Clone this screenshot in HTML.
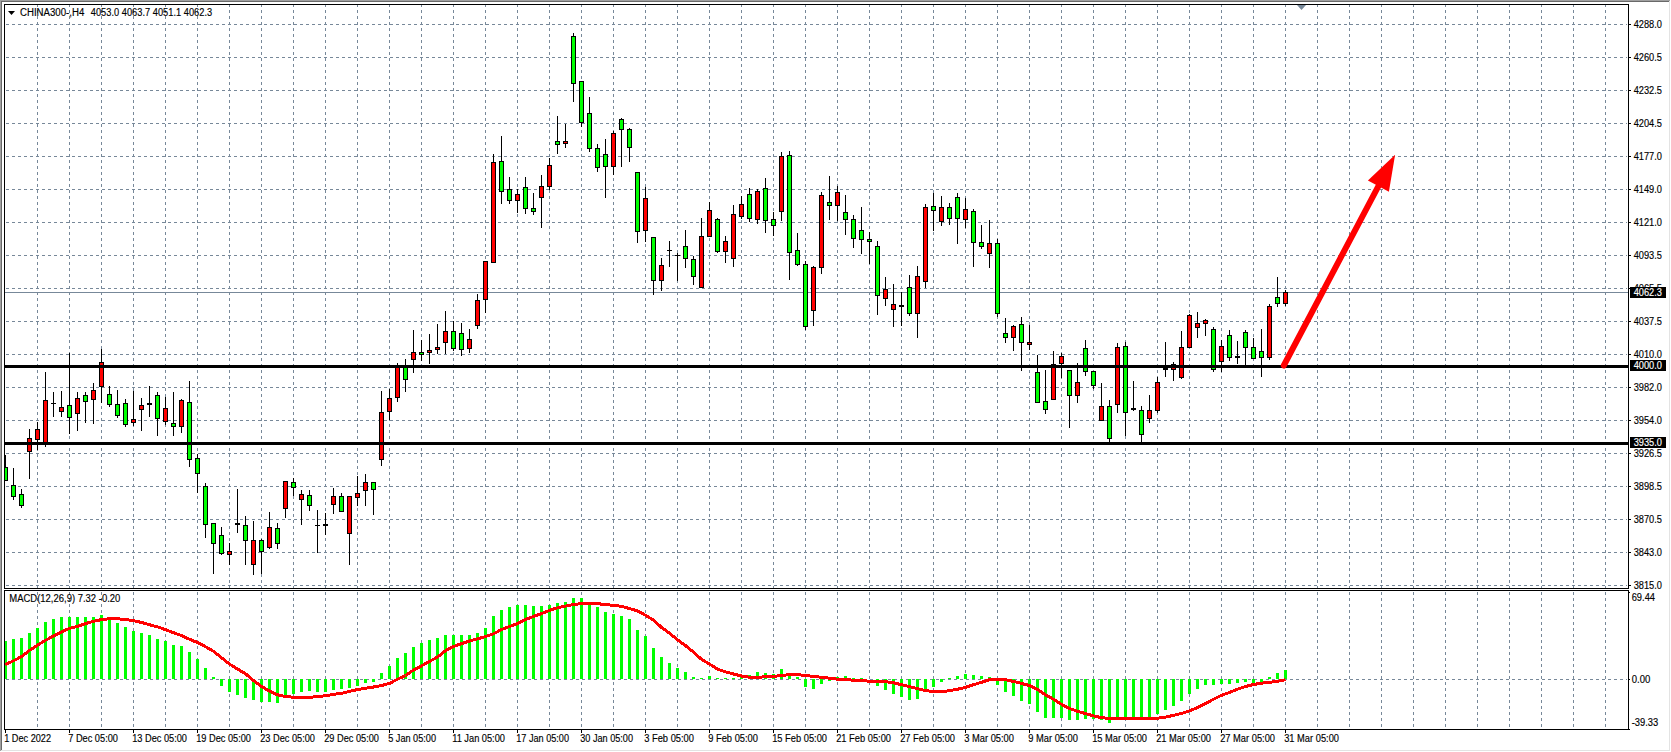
<!DOCTYPE html>
<html lang="en"><head><meta charset="utf-8"><title>CHINA300 H4 chart</title>
<style>
html,body{margin:0;padding:0;background:#fff;overflow:hidden}
svg{display:block}
text{font-family:"Liberation Sans",sans-serif;font-size:10px;fill:#000;stroke:#000;stroke-width:0.15px}
.w{fill:#fff;stroke:#fff}
</style></head><body>
<svg width="1671" height="752" viewBox="0 0 1671 752">
<rect width="1671" height="752" fill="#fff"/>
<g shape-rendering="crispEdges">
<rect x="0" y="0" width="1670" height="1" fill="#a0a0a0"/><rect x="0" y="0" width="1" height="751" fill="#a0a0a0"/>
<rect x="1" y="1" width="1668" height="1" fill="#696969"/><rect x="1" y="1" width="1" height="749" fill="#696969"/>
<rect x="1" y="750" width="1669" height="1" fill="#e3e3e3"/><rect x="1669" y="1" width="1" height="750" fill="#e3e3e3"/>
<g stroke="#778899" stroke-width="1" stroke-dasharray="3 3" fill="none">
<path d="M37.5 4V729"/>
<path d="M69.5 4V729"/>
<path d="M101.5 4V729"/>
<path d="M133.5 4V729"/>
<path d="M165.5 4V729"/>
<path d="M197.5 4V729"/>
<path d="M229.5 4V729"/>
<path d="M261.5 4V729"/>
<path d="M293.5 4V729"/>
<path d="M325.5 4V729"/>
<path d="M357.5 4V729"/>
<path d="M389.5 4V729"/>
<path d="M421.5 4V729"/>
<path d="M453.5 4V729"/>
<path d="M485.5 4V729"/>
<path d="M517.5 4V729"/>
<path d="M549.5 4V729"/>
<path d="M581.5 4V729"/>
<path d="M613.5 4V729"/>
<path d="M645.5 4V729"/>
<path d="M677.5 4V729"/>
<path d="M709.5 4V729"/>
<path d="M741.5 4V729"/>
<path d="M773.5 4V729"/>
<path d="M805.5 4V729"/>
<path d="M837.5 4V729"/>
<path d="M869.5 4V729"/>
<path d="M901.5 4V729"/>
<path d="M933.5 4V729"/>
<path d="M965.5 4V729"/>
<path d="M997.5 4V729"/>
<path d="M1029.5 4V729"/>
<path d="M1061.5 4V729"/>
<path d="M1093.5 4V729"/>
<path d="M1125.5 4V729"/>
<path d="M1157.5 4V729"/>
<path d="M1189.5 4V729"/>
<path d="M1221.5 4V729"/>
<path d="M1253.5 4V729"/>
<path d="M1285.5 4V729"/>
<path d="M1317.5 4V729"/>
<path d="M1349.5 4V729"/>
<path d="M1381.5 4V729"/>
<path d="M1413.5 4V729"/>
<path d="M1445.5 4V729"/>
<path d="M1477.5 4V729"/>
<path d="M1509.5 4V729"/>
<path d="M1541.5 4V729"/>
<path d="M1573.5 4V729"/>
<path d="M1605.5 4V729"/>
<path d="M6 24.5H1627"/>
<path d="M6 57.5H1627"/>
<path d="M6 90.5H1627"/>
<path d="M6 123.5H1627"/>
<path d="M6 156.5H1627"/>
<path d="M6 189.5H1627"/>
<path d="M6 222.5H1627"/>
<path d="M6 255.5H1627"/>
<path d="M6 288.5H1627"/>
<path d="M6 321.5H1627"/>
<path d="M6 354.5H1627"/>
<path d="M6 387.5H1627"/>
<path d="M6 420.5H1627"/>
<path d="M6 453.5H1627"/>
<path d="M6 486.5H1627"/>
<path d="M6 519.5H1627"/>
<path d="M6 552.5H1627"/>
<path d="M6 585.5H1627"/>
<path d="M6 679.5H1627"/>
</g>
<rect x="4" y="589" width="1625" height="1" fill="#fff"/>
<rect x="5" y="292" width="1623" height="1" fill="#778899"/>
<path d="M1297 5h9l-4.5 5z" fill="#778899" shape-rendering="auto"/>
<clipPath id="cm"><rect x="5" y="5" width="1623" height="583"/></clipPath><g clip-path="url(#cm)">
<rect x="5" y="455" width="1" height="26" fill="#000"/>
<rect x="3" y="467" width="5" height="14" fill="#000"/>
<rect x="4" y="468" width="3" height="12" fill="#00ff00"/>
<rect x="13" y="468" width="1" height="32" fill="#000"/>
<rect x="11" y="485" width="5" height="12" fill="#000"/>
<rect x="12" y="486" width="3" height="10" fill="#00ff00"/>
<rect x="21" y="489" width="1" height="19" fill="#000"/>
<rect x="19" y="494" width="5" height="12" fill="#000"/>
<rect x="20" y="495" width="3" height="10" fill="#00ff00"/>
<rect x="29" y="429" width="1" height="50" fill="#000"/>
<rect x="27" y="438" width="5" height="14" fill="#000"/>
<rect x="28" y="439" width="3" height="12" fill="#ff0000"/>
<rect x="37" y="422" width="1" height="28" fill="#000"/>
<rect x="35" y="429" width="5" height="11" fill="#000"/>
<rect x="36" y="430" width="3" height="9" fill="#ff0000"/>
<rect x="45" y="372" width="1" height="75" fill="#000"/>
<rect x="43" y="400" width="5" height="43" fill="#000"/>
<rect x="44" y="401" width="3" height="41" fill="#ff0000"/>
<rect x="53" y="392" width="1" height="25" fill="#000"/>
<rect x="51" y="403" width="5" height="1" fill="#000"/>
<rect x="61" y="391" width="1" height="26" fill="#000"/>
<rect x="59" y="407" width="5" height="5" fill="#000"/>
<rect x="60" y="408" width="3" height="3" fill="#ff0000"/>
<rect x="69" y="353" width="1" height="81" fill="#000"/>
<rect x="67" y="405" width="5" height="13" fill="#000"/>
<rect x="68" y="406" width="3" height="11" fill="#00ff00"/>
<rect x="77" y="392" width="1" height="39" fill="#000"/>
<rect x="75" y="398" width="5" height="16" fill="#000"/>
<rect x="76" y="399" width="3" height="14" fill="#ff0000"/>
<rect x="85" y="392" width="1" height="31" fill="#000"/>
<rect x="83" y="395" width="5" height="7" fill="#000"/>
<rect x="84" y="396" width="3" height="5" fill="#00ff00"/>
<rect x="93" y="383" width="1" height="41" fill="#000"/>
<rect x="91" y="390" width="5" height="10" fill="#000"/>
<rect x="92" y="391" width="3" height="8" fill="#ff0000"/>
<rect x="101" y="349" width="1" height="54" fill="#000"/>
<rect x="99" y="362" width="5" height="25" fill="#000"/>
<rect x="100" y="363" width="3" height="23" fill="#ff0000"/>
<rect x="109" y="386" width="1" height="21" fill="#000"/>
<rect x="107" y="394" width="5" height="11" fill="#000"/>
<rect x="108" y="395" width="3" height="9" fill="#00ff00"/>
<rect x="117" y="390" width="1" height="28" fill="#000"/>
<rect x="115" y="404" width="5" height="12" fill="#000"/>
<rect x="116" y="405" width="3" height="10" fill="#00ff00"/>
<rect x="125" y="399" width="1" height="28" fill="#000"/>
<rect x="123" y="403" width="5" height="22" fill="#000"/>
<rect x="124" y="404" width="3" height="20" fill="#00ff00"/>
<rect x="133" y="391" width="1" height="35" fill="#000"/>
<rect x="131" y="419" width="5" height="4" fill="#000"/>
<rect x="132" y="420" width="3" height="2" fill="#ff0000"/>
<rect x="141" y="398" width="1" height="33" fill="#000"/>
<rect x="139" y="405" width="5" height="5" fill="#000"/>
<rect x="140" y="406" width="3" height="3" fill="#ff0000"/>
<rect x="149" y="386" width="1" height="31" fill="#000"/>
<rect x="147" y="403" width="5" height="2" fill="#000"/>
<rect x="157" y="392" width="1" height="44" fill="#000"/>
<rect x="155" y="395" width="5" height="24" fill="#000"/>
<rect x="156" y="396" width="3" height="22" fill="#00ff00"/>
<rect x="165" y="397" width="1" height="28" fill="#000"/>
<rect x="163" y="408" width="5" height="14" fill="#000"/>
<rect x="164" y="409" width="3" height="12" fill="#ff0000"/>
<rect x="173" y="392" width="1" height="44" fill="#000"/>
<rect x="171" y="423" width="5" height="4" fill="#000"/>
<rect x="172" y="424" width="3" height="2" fill="#00ff00"/>
<rect x="181" y="399" width="1" height="34" fill="#000"/>
<rect x="179" y="400" width="5" height="27" fill="#000"/>
<rect x="180" y="401" width="3" height="25" fill="#ff0000"/>
<rect x="189" y="381" width="1" height="86" fill="#000"/>
<rect x="187" y="402" width="5" height="58" fill="#000"/>
<rect x="188" y="403" width="3" height="56" fill="#00ff00"/>
<rect x="197" y="454" width="1" height="39" fill="#000"/>
<rect x="195" y="458" width="5" height="16" fill="#000"/>
<rect x="196" y="459" width="3" height="14" fill="#00ff00"/>
<rect x="205" y="483" width="1" height="55" fill="#000"/>
<rect x="203" y="486" width="5" height="39" fill="#000"/>
<rect x="204" y="487" width="3" height="37" fill="#00ff00"/>
<rect x="213" y="523" width="1" height="51" fill="#000"/>
<rect x="211" y="523" width="5" height="21" fill="#000"/>
<rect x="212" y="524" width="3" height="19" fill="#00ff00"/>
<rect x="221" y="527" width="1" height="28" fill="#000"/>
<rect x="219" y="535" width="5" height="19" fill="#000"/>
<rect x="220" y="536" width="3" height="17" fill="#00ff00"/>
<rect x="229" y="543" width="1" height="22" fill="#000"/>
<rect x="227" y="551" width="5" height="4" fill="#000"/>
<rect x="228" y="552" width="3" height="2" fill="#ff0000"/>
<rect x="237" y="489" width="1" height="44" fill="#000"/>
<rect x="235" y="523" width="5" height="2" fill="#000"/>
<rect x="245" y="516" width="1" height="49" fill="#000"/>
<rect x="243" y="525" width="5" height="16" fill="#000"/>
<rect x="244" y="526" width="3" height="14" fill="#00ff00"/>
<rect x="253" y="521" width="1" height="54" fill="#000"/>
<rect x="251" y="540" width="5" height="25" fill="#000"/>
<rect x="252" y="541" width="3" height="23" fill="#ff0000"/>
<rect x="261" y="539" width="1" height="35" fill="#000"/>
<rect x="259" y="540" width="5" height="12" fill="#000"/>
<rect x="260" y="541" width="3" height="10" fill="#00ff00"/>
<rect x="269" y="512" width="1" height="37" fill="#000"/>
<rect x="267" y="527" width="5" height="21" fill="#000"/>
<rect x="268" y="528" width="3" height="19" fill="#ff0000"/>
<rect x="277" y="523" width="1" height="26" fill="#000"/>
<rect x="275" y="528" width="5" height="16" fill="#000"/>
<rect x="276" y="529" width="3" height="14" fill="#00ff00"/>
<rect x="285" y="481" width="1" height="37" fill="#000"/>
<rect x="283" y="481" width="5" height="28" fill="#000"/>
<rect x="284" y="482" width="3" height="26" fill="#ff0000"/>
<rect x="293" y="478" width="1" height="18" fill="#000"/>
<rect x="291" y="482" width="5" height="6" fill="#000"/>
<rect x="292" y="483" width="3" height="4" fill="#00ff00"/>
<rect x="301" y="490" width="1" height="35" fill="#000"/>
<rect x="299" y="494" width="5" height="6" fill="#000"/>
<rect x="300" y="495" width="3" height="4" fill="#ff0000"/>
<rect x="309" y="490" width="1" height="21" fill="#000"/>
<rect x="307" y="495" width="5" height="11" fill="#000"/>
<rect x="308" y="496" width="3" height="9" fill="#00ff00"/>
<rect x="317" y="510" width="1" height="43" fill="#000"/>
<rect x="315" y="525" width="5" height="1" fill="#000"/>
<rect x="325" y="513" width="1" height="22" fill="#000"/>
<rect x="323" y="524" width="5" height="2" fill="#000"/>
<rect x="333" y="488" width="1" height="26" fill="#000"/>
<rect x="331" y="496" width="5" height="9" fill="#000"/>
<rect x="332" y="497" width="3" height="7" fill="#ff0000"/>
<rect x="341" y="493" width="1" height="19" fill="#000"/>
<rect x="339" y="496" width="5" height="16" fill="#000"/>
<rect x="340" y="497" width="3" height="14" fill="#00ff00"/>
<rect x="349" y="496" width="1" height="69" fill="#000"/>
<rect x="347" y="496" width="5" height="38" fill="#000"/>
<rect x="348" y="497" width="3" height="36" fill="#ff0000"/>
<rect x="357" y="476" width="1" height="30" fill="#000"/>
<rect x="355" y="493" width="5" height="5" fill="#000"/>
<rect x="356" y="494" width="3" height="3" fill="#ff0000"/>
<rect x="365" y="474" width="1" height="32" fill="#000"/>
<rect x="363" y="482" width="5" height="9" fill="#000"/>
<rect x="364" y="483" width="3" height="7" fill="#ff0000"/>
<rect x="373" y="482" width="1" height="33" fill="#000"/>
<rect x="371" y="482" width="5" height="8" fill="#000"/>
<rect x="372" y="483" width="3" height="6" fill="#00ff00"/>
<rect x="381" y="391" width="1" height="75" fill="#000"/>
<rect x="379" y="412" width="5" height="48" fill="#000"/>
<rect x="380" y="413" width="3" height="46" fill="#ff0000"/>
<rect x="389" y="389" width="1" height="31" fill="#000"/>
<rect x="387" y="398" width="5" height="14" fill="#000"/>
<rect x="388" y="399" width="3" height="12" fill="#ff0000"/>
<rect x="397" y="363" width="1" height="39" fill="#000"/>
<rect x="395" y="366" width="5" height="32" fill="#000"/>
<rect x="396" y="367" width="3" height="30" fill="#ff0000"/>
<rect x="405" y="359" width="1" height="33" fill="#000"/>
<rect x="403" y="366" width="5" height="14" fill="#000"/>
<rect x="404" y="367" width="3" height="12" fill="#00ff00"/>
<rect x="413" y="330" width="1" height="43" fill="#000"/>
<rect x="411" y="352" width="5" height="8" fill="#000"/>
<rect x="412" y="353" width="3" height="6" fill="#ff0000"/>
<rect x="421" y="340" width="1" height="21" fill="#000"/>
<rect x="419" y="352" width="5" height="3" fill="#000"/>
<rect x="420" y="353" width="3" height="1" fill="#00ff00"/>
<rect x="429" y="334" width="1" height="30" fill="#000"/>
<rect x="427" y="350" width="5" height="3" fill="#000"/>
<rect x="428" y="351" width="3" height="1" fill="#ff0000"/>
<rect x="437" y="324" width="1" height="30" fill="#000"/>
<rect x="435" y="347" width="5" height="3" fill="#000"/>
<rect x="436" y="348" width="3" height="1" fill="#ff0000"/>
<rect x="445" y="311" width="1" height="43" fill="#000"/>
<rect x="443" y="331" width="5" height="12" fill="#000"/>
<rect x="444" y="332" width="3" height="10" fill="#ff0000"/>
<rect x="453" y="321" width="1" height="30" fill="#000"/>
<rect x="451" y="331" width="5" height="18" fill="#000"/>
<rect x="452" y="332" width="3" height="16" fill="#00ff00"/>
<rect x="461" y="323" width="1" height="33" fill="#000"/>
<rect x="459" y="333" width="5" height="17" fill="#000"/>
<rect x="460" y="334" width="3" height="15" fill="#00ff00"/>
<rect x="469" y="329" width="1" height="24" fill="#000"/>
<rect x="467" y="339" width="5" height="10" fill="#000"/>
<rect x="468" y="340" width="3" height="8" fill="#ff0000"/>
<rect x="477" y="294" width="1" height="35" fill="#000"/>
<rect x="475" y="300" width="5" height="26" fill="#000"/>
<rect x="476" y="301" width="3" height="24" fill="#ff0000"/>
<rect x="485" y="261" width="1" height="52" fill="#000"/>
<rect x="483" y="261" width="5" height="39" fill="#000"/>
<rect x="484" y="262" width="3" height="37" fill="#ff0000"/>
<rect x="493" y="154" width="1" height="109" fill="#000"/>
<rect x="491" y="162" width="5" height="101" fill="#000"/>
<rect x="492" y="163" width="3" height="99" fill="#ff0000"/>
<rect x="501" y="136" width="1" height="68" fill="#000"/>
<rect x="499" y="161" width="5" height="31" fill="#000"/>
<rect x="500" y="162" width="3" height="29" fill="#00ff00"/>
<rect x="509" y="177" width="1" height="27" fill="#000"/>
<rect x="507" y="189" width="5" height="12" fill="#000"/>
<rect x="508" y="190" width="3" height="10" fill="#00ff00"/>
<rect x="517" y="189" width="1" height="24" fill="#000"/>
<rect x="515" y="194" width="5" height="7" fill="#000"/>
<rect x="516" y="195" width="3" height="5" fill="#ff0000"/>
<rect x="525" y="177" width="1" height="37" fill="#000"/>
<rect x="523" y="187" width="5" height="22" fill="#000"/>
<rect x="524" y="188" width="3" height="20" fill="#00ff00"/>
<rect x="533" y="193" width="1" height="22" fill="#000"/>
<rect x="531" y="208" width="5" height="4" fill="#000"/>
<rect x="532" y="209" width="3" height="2" fill="#00ff00"/>
<rect x="541" y="175" width="1" height="53" fill="#000"/>
<rect x="539" y="186" width="5" height="12" fill="#000"/>
<rect x="540" y="187" width="3" height="10" fill="#ff0000"/>
<rect x="549" y="158" width="1" height="32" fill="#000"/>
<rect x="547" y="165" width="5" height="22" fill="#000"/>
<rect x="548" y="166" width="3" height="20" fill="#ff0000"/>
<rect x="557" y="116" width="1" height="38" fill="#000"/>
<rect x="555" y="141" width="5" height="4" fill="#000"/>
<rect x="556" y="142" width="3" height="2" fill="#00ff00"/>
<rect x="565" y="124" width="1" height="24" fill="#000"/>
<rect x="563" y="141" width="5" height="3" fill="#000"/>
<rect x="564" y="142" width="3" height="1" fill="#ff0000"/>
<rect x="573" y="33" width="1" height="69" fill="#000"/>
<rect x="571" y="36" width="5" height="48" fill="#000"/>
<rect x="572" y="37" width="3" height="46" fill="#00ff00"/>
<rect x="581" y="81" width="1" height="46" fill="#000"/>
<rect x="579" y="81" width="5" height="42" fill="#000"/>
<rect x="580" y="82" width="3" height="40" fill="#00ff00"/>
<rect x="589" y="97" width="1" height="55" fill="#000"/>
<rect x="587" y="113" width="5" height="36" fill="#000"/>
<rect x="588" y="114" width="3" height="34" fill="#00ff00"/>
<rect x="597" y="144" width="1" height="28" fill="#000"/>
<rect x="595" y="148" width="5" height="20" fill="#000"/>
<rect x="596" y="149" width="3" height="18" fill="#00ff00"/>
<rect x="605" y="139" width="1" height="59" fill="#000"/>
<rect x="603" y="154" width="5" height="13" fill="#000"/>
<rect x="604" y="155" width="3" height="11" fill="#00ff00"/>
<rect x="613" y="131" width="1" height="44" fill="#000"/>
<rect x="611" y="133" width="5" height="34" fill="#000"/>
<rect x="612" y="134" width="3" height="32" fill="#ff0000"/>
<rect x="621" y="118" width="1" height="49" fill="#000"/>
<rect x="619" y="119" width="5" height="11" fill="#000"/>
<rect x="620" y="120" width="3" height="9" fill="#00ff00"/>
<rect x="629" y="128" width="1" height="34" fill="#000"/>
<rect x="627" y="129" width="5" height="19" fill="#000"/>
<rect x="628" y="130" width="3" height="17" fill="#00ff00"/>
<rect x="637" y="172" width="1" height="71" fill="#000"/>
<rect x="635" y="172" width="5" height="60" fill="#000"/>
<rect x="636" y="173" width="3" height="58" fill="#00ff00"/>
<rect x="645" y="187" width="1" height="55" fill="#000"/>
<rect x="643" y="198" width="5" height="33" fill="#000"/>
<rect x="644" y="199" width="3" height="31" fill="#ff0000"/>
<rect x="653" y="237" width="1" height="58" fill="#000"/>
<rect x="651" y="237" width="5" height="44" fill="#000"/>
<rect x="652" y="238" width="3" height="42" fill="#00ff00"/>
<rect x="661" y="258" width="1" height="33" fill="#000"/>
<rect x="659" y="265" width="5" height="16" fill="#000"/>
<rect x="660" y="266" width="3" height="14" fill="#ff0000"/>
<rect x="669" y="241" width="1" height="26" fill="#000"/>
<rect x="667" y="250" width="5" height="1" fill="#000"/>
<rect x="677" y="253" width="1" height="28" fill="#000"/>
<rect x="675" y="255" width="5" height="1" fill="#000"/>
<rect x="685" y="230" width="1" height="38" fill="#000"/>
<rect x="683" y="246" width="5" height="13" fill="#000"/>
<rect x="684" y="247" width="3" height="11" fill="#00ff00"/>
<rect x="693" y="256" width="1" height="29" fill="#000"/>
<rect x="691" y="259" width="5" height="18" fill="#000"/>
<rect x="692" y="260" width="3" height="16" fill="#00ff00"/>
<rect x="701" y="218" width="1" height="70" fill="#000"/>
<rect x="699" y="236" width="5" height="52" fill="#000"/>
<rect x="700" y="237" width="3" height="50" fill="#ff0000"/>
<rect x="709" y="202" width="1" height="35" fill="#000"/>
<rect x="707" y="210" width="5" height="27" fill="#000"/>
<rect x="708" y="211" width="3" height="25" fill="#ff0000"/>
<rect x="717" y="218" width="1" height="35" fill="#000"/>
<rect x="715" y="219" width="5" height="33" fill="#000"/>
<rect x="716" y="220" width="3" height="31" fill="#00ff00"/>
<rect x="725" y="236" width="1" height="27" fill="#000"/>
<rect x="723" y="241" width="5" height="11" fill="#000"/>
<rect x="724" y="242" width="3" height="9" fill="#ff0000"/>
<rect x="733" y="205" width="1" height="62" fill="#000"/>
<rect x="731" y="214" width="5" height="45" fill="#000"/>
<rect x="732" y="215" width="3" height="43" fill="#ff0000"/>
<rect x="741" y="196" width="1" height="23" fill="#000"/>
<rect x="739" y="204" width="5" height="13" fill="#000"/>
<rect x="740" y="205" width="3" height="11" fill="#ff0000"/>
<rect x="749" y="188" width="1" height="34" fill="#000"/>
<rect x="747" y="194" width="5" height="25" fill="#000"/>
<rect x="748" y="195" width="3" height="23" fill="#00ff00"/>
<rect x="757" y="189" width="1" height="35" fill="#000"/>
<rect x="755" y="191" width="5" height="29" fill="#000"/>
<rect x="756" y="192" width="3" height="27" fill="#ff0000"/>
<rect x="765" y="178" width="1" height="55" fill="#000"/>
<rect x="763" y="188" width="5" height="33" fill="#000"/>
<rect x="764" y="189" width="3" height="31" fill="#00ff00"/>
<rect x="773" y="212" width="1" height="24" fill="#000"/>
<rect x="771" y="219" width="5" height="7" fill="#000"/>
<rect x="772" y="220" width="3" height="5" fill="#00ff00"/>
<rect x="781" y="152" width="1" height="69" fill="#000"/>
<rect x="779" y="156" width="5" height="56" fill="#000"/>
<rect x="780" y="157" width="3" height="54" fill="#ff0000"/>
<rect x="789" y="151" width="1" height="129" fill="#000"/>
<rect x="787" y="155" width="5" height="98" fill="#000"/>
<rect x="788" y="156" width="3" height="96" fill="#00ff00"/>
<rect x="797" y="233" width="1" height="33" fill="#000"/>
<rect x="795" y="250" width="5" height="15" fill="#000"/>
<rect x="796" y="251" width="3" height="13" fill="#00ff00"/>
<rect x="805" y="261" width="1" height="69" fill="#000"/>
<rect x="803" y="264" width="5" height="63" fill="#000"/>
<rect x="804" y="265" width="3" height="61" fill="#00ff00"/>
<rect x="813" y="266" width="1" height="60" fill="#000"/>
<rect x="811" y="267" width="5" height="44" fill="#000"/>
<rect x="812" y="268" width="3" height="42" fill="#ff0000"/>
<rect x="821" y="192" width="1" height="82" fill="#000"/>
<rect x="819" y="195" width="5" height="73" fill="#000"/>
<rect x="820" y="196" width="3" height="71" fill="#ff0000"/>
<rect x="829" y="176" width="1" height="44" fill="#000"/>
<rect x="827" y="202" width="5" height="4" fill="#000"/>
<rect x="828" y="203" width="3" height="2" fill="#00ff00"/>
<rect x="837" y="186" width="1" height="35" fill="#000"/>
<rect x="835" y="192" width="5" height="14" fill="#000"/>
<rect x="836" y="193" width="3" height="12" fill="#ff0000"/>
<rect x="845" y="195" width="1" height="40" fill="#000"/>
<rect x="843" y="212" width="5" height="8" fill="#000"/>
<rect x="844" y="213" width="3" height="6" fill="#00ff00"/>
<rect x="853" y="215" width="1" height="33" fill="#000"/>
<rect x="851" y="219" width="5" height="20" fill="#000"/>
<rect x="852" y="220" width="3" height="18" fill="#00ff00"/>
<rect x="861" y="207" width="1" height="47" fill="#000"/>
<rect x="859" y="230" width="5" height="10" fill="#000"/>
<rect x="860" y="231" width="3" height="8" fill="#00ff00"/>
<rect x="869" y="232" width="1" height="32" fill="#000"/>
<rect x="867" y="239" width="5" height="3" fill="#000"/>
<rect x="868" y="240" width="3" height="1" fill="#00ff00"/>
<rect x="877" y="241" width="1" height="74" fill="#000"/>
<rect x="875" y="246" width="5" height="50" fill="#000"/>
<rect x="876" y="247" width="3" height="48" fill="#00ff00"/>
<rect x="885" y="277" width="1" height="29" fill="#000"/>
<rect x="883" y="289" width="5" height="10" fill="#000"/>
<rect x="884" y="290" width="3" height="8" fill="#ff0000"/>
<rect x="893" y="284" width="1" height="43" fill="#000"/>
<rect x="891" y="304" width="5" height="6" fill="#000"/>
<rect x="892" y="305" width="3" height="4" fill="#ff0000"/>
<rect x="901" y="292" width="1" height="34" fill="#000"/>
<rect x="899" y="305" width="5" height="2" fill="#000"/>
<rect x="909" y="275" width="1" height="41" fill="#000"/>
<rect x="907" y="287" width="5" height="27" fill="#000"/>
<rect x="908" y="288" width="3" height="25" fill="#00ff00"/>
<rect x="917" y="266" width="1" height="72" fill="#000"/>
<rect x="915" y="276" width="5" height="38" fill="#000"/>
<rect x="916" y="277" width="3" height="36" fill="#ff0000"/>
<rect x="925" y="204" width="1" height="84" fill="#000"/>
<rect x="923" y="207" width="5" height="75" fill="#000"/>
<rect x="924" y="208" width="3" height="73" fill="#ff0000"/>
<rect x="933" y="193" width="1" height="38" fill="#000"/>
<rect x="931" y="206" width="5" height="5" fill="#000"/>
<rect x="932" y="207" width="3" height="3" fill="#00ff00"/>
<rect x="941" y="196" width="1" height="30" fill="#000"/>
<rect x="939" y="207" width="5" height="15" fill="#000"/>
<rect x="940" y="208" width="3" height="13" fill="#ff0000"/>
<rect x="949" y="203" width="1" height="22" fill="#000"/>
<rect x="947" y="207" width="5" height="12" fill="#000"/>
<rect x="948" y="208" width="3" height="10" fill="#00ff00"/>
<rect x="957" y="193" width="1" height="51" fill="#000"/>
<rect x="955" y="197" width="5" height="22" fill="#000"/>
<rect x="956" y="198" width="3" height="20" fill="#00ff00"/>
<rect x="965" y="198" width="1" height="30" fill="#000"/>
<rect x="963" y="209" width="5" height="11" fill="#000"/>
<rect x="964" y="210" width="3" height="9" fill="#ff0000"/>
<rect x="973" y="209" width="1" height="58" fill="#000"/>
<rect x="971" y="211" width="5" height="32" fill="#000"/>
<rect x="972" y="212" width="3" height="30" fill="#00ff00"/>
<rect x="981" y="225" width="1" height="24" fill="#000"/>
<rect x="979" y="242" width="5" height="5" fill="#000"/>
<rect x="980" y="243" width="3" height="3" fill="#00ff00"/>
<rect x="989" y="220" width="1" height="48" fill="#000"/>
<rect x="987" y="243" width="5" height="11" fill="#000"/>
<rect x="988" y="244" width="3" height="9" fill="#ff0000"/>
<rect x="997" y="239" width="1" height="78" fill="#000"/>
<rect x="995" y="243" width="5" height="71" fill="#000"/>
<rect x="996" y="244" width="3" height="69" fill="#00ff00"/>
<rect x="1005" y="318" width="1" height="25" fill="#000"/>
<rect x="1003" y="333" width="5" height="5" fill="#000"/>
<rect x="1004" y="334" width="3" height="3" fill="#00ff00"/>
<rect x="1013" y="325" width="1" height="26" fill="#000"/>
<rect x="1011" y="326" width="5" height="12" fill="#000"/>
<rect x="1012" y="327" width="3" height="10" fill="#ff0000"/>
<rect x="1021" y="317" width="1" height="54" fill="#000"/>
<rect x="1019" y="324" width="5" height="19" fill="#000"/>
<rect x="1020" y="325" width="3" height="17" fill="#00ff00"/>
<rect x="1029" y="325" width="1" height="25" fill="#000"/>
<rect x="1027" y="342" width="5" height="3" fill="#000"/>
<rect x="1028" y="343" width="3" height="1" fill="#ff0000"/>
<rect x="1037" y="355" width="1" height="48" fill="#000"/>
<rect x="1035" y="372" width="5" height="31" fill="#000"/>
<rect x="1036" y="373" width="3" height="29" fill="#00ff00"/>
<rect x="1045" y="370" width="1" height="44" fill="#000"/>
<rect x="1043" y="401" width="5" height="9" fill="#000"/>
<rect x="1044" y="402" width="3" height="7" fill="#00ff00"/>
<rect x="1053" y="351" width="1" height="49" fill="#000"/>
<rect x="1051" y="364" width="5" height="36" fill="#000"/>
<rect x="1052" y="365" width="3" height="34" fill="#ff0000"/>
<rect x="1061" y="353" width="1" height="25" fill="#000"/>
<rect x="1059" y="356" width="5" height="8" fill="#000"/>
<rect x="1060" y="357" width="3" height="6" fill="#ff0000"/>
<rect x="1069" y="370" width="1" height="58" fill="#000"/>
<rect x="1067" y="370" width="5" height="26" fill="#000"/>
<rect x="1068" y="371" width="3" height="24" fill="#00ff00"/>
<rect x="1077" y="363" width="1" height="40" fill="#000"/>
<rect x="1075" y="382" width="5" height="14" fill="#000"/>
<rect x="1076" y="383" width="3" height="12" fill="#ff0000"/>
<rect x="1085" y="340" width="1" height="36" fill="#000"/>
<rect x="1083" y="348" width="5" height="24" fill="#000"/>
<rect x="1084" y="349" width="3" height="22" fill="#00ff00"/>
<rect x="1093" y="371" width="1" height="18" fill="#000"/>
<rect x="1091" y="371" width="5" height="15" fill="#000"/>
<rect x="1092" y="372" width="3" height="13" fill="#00ff00"/>
<rect x="1101" y="383" width="1" height="38" fill="#000"/>
<rect x="1099" y="406" width="5" height="15" fill="#000"/>
<rect x="1100" y="407" width="3" height="13" fill="#ff0000"/>
<rect x="1109" y="400" width="1" height="42" fill="#000"/>
<rect x="1107" y="406" width="5" height="33" fill="#000"/>
<rect x="1108" y="407" width="3" height="31" fill="#00ff00"/>
<rect x="1117" y="343" width="1" height="70" fill="#000"/>
<rect x="1115" y="347" width="5" height="58" fill="#000"/>
<rect x="1116" y="348" width="3" height="56" fill="#ff0000"/>
<rect x="1125" y="342" width="1" height="94" fill="#000"/>
<rect x="1123" y="346" width="5" height="67" fill="#000"/>
<rect x="1124" y="347" width="3" height="65" fill="#00ff00"/>
<rect x="1133" y="381" width="1" height="30" fill="#000"/>
<rect x="1131" y="408" width="5" height="2" fill="#000"/>
<rect x="1141" y="406" width="1" height="36" fill="#000"/>
<rect x="1139" y="410" width="5" height="25" fill="#000"/>
<rect x="1140" y="411" width="3" height="23" fill="#00ff00"/>
<rect x="1149" y="395" width="1" height="28" fill="#000"/>
<rect x="1147" y="410" width="5" height="9" fill="#000"/>
<rect x="1148" y="411" width="3" height="7" fill="#ff0000"/>
<rect x="1157" y="377" width="1" height="36" fill="#000"/>
<rect x="1155" y="382" width="5" height="29" fill="#000"/>
<rect x="1156" y="383" width="3" height="27" fill="#ff0000"/>
<rect x="1165" y="342" width="1" height="35" fill="#000"/>
<rect x="1163" y="368" width="5" height="2" fill="#000"/>
<rect x="1173" y="362" width="1" height="19" fill="#000"/>
<rect x="1171" y="364" width="5" height="6" fill="#000"/>
<rect x="1172" y="365" width="3" height="4" fill="#ff0000"/>
<rect x="1181" y="331" width="1" height="48" fill="#000"/>
<rect x="1179" y="347" width="5" height="31" fill="#000"/>
<rect x="1180" y="348" width="3" height="29" fill="#ff0000"/>
<rect x="1189" y="314" width="1" height="34" fill="#000"/>
<rect x="1187" y="315" width="5" height="33" fill="#000"/>
<rect x="1188" y="316" width="3" height="31" fill="#ff0000"/>
<rect x="1197" y="312" width="1" height="26" fill="#000"/>
<rect x="1195" y="323" width="5" height="5" fill="#000"/>
<rect x="1196" y="324" width="3" height="3" fill="#ff0000"/>
<rect x="1205" y="319" width="1" height="17" fill="#000"/>
<rect x="1203" y="320" width="5" height="4" fill="#000"/>
<rect x="1204" y="321" width="3" height="2" fill="#ff0000"/>
<rect x="1213" y="327" width="1" height="45" fill="#000"/>
<rect x="1211" y="329" width="5" height="41" fill="#000"/>
<rect x="1212" y="330" width="3" height="39" fill="#00ff00"/>
<rect x="1221" y="340" width="1" height="32" fill="#000"/>
<rect x="1219" y="346" width="5" height="16" fill="#000"/>
<rect x="1220" y="347" width="3" height="14" fill="#ff0000"/>
<rect x="1229" y="330" width="1" height="31" fill="#000"/>
<rect x="1227" y="335" width="5" height="23" fill="#000"/>
<rect x="1228" y="336" width="3" height="21" fill="#00ff00"/>
<rect x="1237" y="341" width="1" height="23" fill="#000"/>
<rect x="1235" y="356" width="5" height="2" fill="#000"/>
<rect x="1245" y="330" width="1" height="36" fill="#000"/>
<rect x="1243" y="332" width="5" height="16" fill="#000"/>
<rect x="1244" y="333" width="3" height="14" fill="#00ff00"/>
<rect x="1253" y="338" width="1" height="21" fill="#000"/>
<rect x="1251" y="347" width="5" height="12" fill="#000"/>
<rect x="1252" y="348" width="3" height="10" fill="#00ff00"/>
<rect x="1261" y="329" width="1" height="48" fill="#000"/>
<rect x="1259" y="351" width="5" height="7" fill="#000"/>
<rect x="1260" y="352" width="3" height="5" fill="#00ff00"/>
<rect x="1269" y="304" width="1" height="56" fill="#000"/>
<rect x="1267" y="306" width="5" height="52" fill="#000"/>
<rect x="1268" y="307" width="3" height="50" fill="#ff0000"/>
<rect x="1277" y="277" width="1" height="30" fill="#000"/>
<rect x="1275" y="297" width="5" height="7" fill="#000"/>
<rect x="1276" y="298" width="3" height="5" fill="#00ff00"/>
<rect x="1285" y="290" width="1" height="16" fill="#000"/>
<rect x="1283" y="292" width="5" height="12" fill="#000"/>
<rect x="1284" y="293" width="3" height="10" fill="#ff0000"/>
</g>
<rect x="4" y="641" width="3" height="38" fill="#00ff00"/>
<rect x="12" y="639" width="3" height="40" fill="#00ff00"/>
<rect x="20" y="638" width="3" height="41" fill="#00ff00"/>
<rect x="28" y="633" width="3" height="46" fill="#00ff00"/>
<rect x="36" y="628" width="3" height="51" fill="#00ff00"/>
<rect x="44" y="622" width="3" height="57" fill="#00ff00"/>
<rect x="52" y="619" width="3" height="60" fill="#00ff00"/>
<rect x="60" y="617" width="3" height="62" fill="#00ff00"/>
<rect x="68" y="617" width="3" height="62" fill="#00ff00"/>
<rect x="76" y="617" width="3" height="62" fill="#00ff00"/>
<rect x="84" y="617" width="3" height="62" fill="#00ff00"/>
<rect x="92" y="617" width="3" height="62" fill="#00ff00"/>
<rect x="100" y="615" width="3" height="64" fill="#00ff00"/>
<rect x="108" y="620" width="3" height="59" fill="#00ff00"/>
<rect x="116" y="623" width="3" height="56" fill="#00ff00"/>
<rect x="124" y="627" width="3" height="52" fill="#00ff00"/>
<rect x="132" y="631" width="3" height="48" fill="#00ff00"/>
<rect x="140" y="633" width="3" height="46" fill="#00ff00"/>
<rect x="148" y="635" width="3" height="44" fill="#00ff00"/>
<rect x="156" y="639" width="3" height="40" fill="#00ff00"/>
<rect x="164" y="641" width="3" height="38" fill="#00ff00"/>
<rect x="172" y="645" width="3" height="34" fill="#00ff00"/>
<rect x="180" y="646" width="3" height="33" fill="#00ff00"/>
<rect x="188" y="652" width="3" height="27" fill="#00ff00"/>
<rect x="196" y="659" width="3" height="20" fill="#00ff00"/>
<rect x="204" y="668" width="3" height="11" fill="#00ff00"/>
<rect x="212" y="677" width="3" height="2" fill="#00ff00"/>
<rect x="220" y="679" width="3" height="7" fill="#00ff00"/>
<rect x="228" y="679" width="3" height="13" fill="#00ff00"/>
<rect x="236" y="679" width="3" height="16" fill="#00ff00"/>
<rect x="244" y="679" width="3" height="19" fill="#00ff00"/>
<rect x="252" y="679" width="3" height="21" fill="#00ff00"/>
<rect x="260" y="679" width="3" height="23" fill="#00ff00"/>
<rect x="268" y="679" width="3" height="23" fill="#00ff00"/>
<rect x="276" y="679" width="3" height="24" fill="#00ff00"/>
<rect x="284" y="679" width="3" height="17" fill="#00ff00"/>
<rect x="292" y="679" width="3" height="15" fill="#00ff00"/>
<rect x="300" y="679" width="3" height="13" fill="#00ff00"/>
<rect x="308" y="679" width="3" height="12" fill="#00ff00"/>
<rect x="316" y="679" width="3" height="13" fill="#00ff00"/>
<rect x="324" y="679" width="3" height="13" fill="#00ff00"/>
<rect x="332" y="679" width="3" height="11" fill="#00ff00"/>
<rect x="340" y="679" width="3" height="10" fill="#00ff00"/>
<rect x="348" y="679" width="3" height="9" fill="#00ff00"/>
<rect x="356" y="679" width="3" height="7" fill="#00ff00"/>
<rect x="364" y="679" width="3" height="4" fill="#00ff00"/>
<rect x="372" y="679" width="3" height="3" fill="#00ff00"/>
<rect x="380" y="673" width="3" height="6" fill="#00ff00"/>
<rect x="388" y="666" width="3" height="13" fill="#00ff00"/>
<rect x="396" y="658" width="3" height="21" fill="#00ff00"/>
<rect x="404" y="653" width="3" height="26" fill="#00ff00"/>
<rect x="412" y="647" width="3" height="32" fill="#00ff00"/>
<rect x="420" y="643" width="3" height="36" fill="#00ff00"/>
<rect x="428" y="640" width="3" height="39" fill="#00ff00"/>
<rect x="436" y="638" width="3" height="41" fill="#00ff00"/>
<rect x="444" y="635" width="3" height="44" fill="#00ff00"/>
<rect x="452" y="635" width="3" height="44" fill="#00ff00"/>
<rect x="460" y="635" width="3" height="44" fill="#00ff00"/>
<rect x="468" y="635" width="3" height="44" fill="#00ff00"/>
<rect x="476" y="633" width="3" height="46" fill="#00ff00"/>
<rect x="484" y="628" width="3" height="51" fill="#00ff00"/>
<rect x="492" y="616" width="3" height="63" fill="#00ff00"/>
<rect x="500" y="610" width="3" height="69" fill="#00ff00"/>
<rect x="508" y="607" width="3" height="72" fill="#00ff00"/>
<rect x="516" y="605" width="3" height="74" fill="#00ff00"/>
<rect x="524" y="605" width="3" height="74" fill="#00ff00"/>
<rect x="532" y="606" width="3" height="73" fill="#00ff00"/>
<rect x="540" y="606" width="3" height="73" fill="#00ff00"/>
<rect x="548" y="605" width="3" height="74" fill="#00ff00"/>
<rect x="556" y="603" width="3" height="76" fill="#00ff00"/>
<rect x="564" y="602" width="3" height="77" fill="#00ff00"/>
<rect x="572" y="598" width="3" height="81" fill="#00ff00"/>
<rect x="580" y="598" width="3" height="81" fill="#00ff00"/>
<rect x="588" y="604" width="3" height="75" fill="#00ff00"/>
<rect x="596" y="607" width="3" height="72" fill="#00ff00"/>
<rect x="604" y="612" width="3" height="67" fill="#00ff00"/>
<rect x="612" y="614" width="3" height="65" fill="#00ff00"/>
<rect x="620" y="616" width="3" height="63" fill="#00ff00"/>
<rect x="628" y="619" width="3" height="60" fill="#00ff00"/>
<rect x="636" y="630" width="3" height="49" fill="#00ff00"/>
<rect x="644" y="636" width="3" height="43" fill="#00ff00"/>
<rect x="652" y="648" width="3" height="31" fill="#00ff00"/>
<rect x="660" y="657" width="3" height="22" fill="#00ff00"/>
<rect x="668" y="663" width="3" height="16" fill="#00ff00"/>
<rect x="676" y="668" width="3" height="11" fill="#00ff00"/>
<rect x="684" y="672" width="3" height="7" fill="#00ff00"/>
<rect x="692" y="677" width="3" height="2" fill="#00ff00"/>
<rect x="700" y="678" width="3" height="1" fill="#00ff00"/>
<rect x="708" y="676" width="3" height="3" fill="#00ff00"/>
<rect x="716" y="678" width="3" height="1" fill="#00ff00"/>
<rect x="724" y="678" width="3" height="1" fill="#00ff00"/>
<rect x="732" y="678" width="3" height="1" fill="#00ff00"/>
<rect x="740" y="677" width="3" height="2" fill="#00ff00"/>
<rect x="748" y="675" width="3" height="4" fill="#00ff00"/>
<rect x="756" y="672" width="3" height="7" fill="#00ff00"/>
<rect x="764" y="673" width="3" height="6" fill="#00ff00"/>
<rect x="772" y="674" width="3" height="5" fill="#00ff00"/>
<rect x="780" y="669" width="3" height="10" fill="#00ff00"/>
<rect x="788" y="675" width="3" height="4" fill="#00ff00"/>
<rect x="796" y="677" width="3" height="2" fill="#00ff00"/>
<rect x="804" y="679" width="3" height="8" fill="#00ff00"/>
<rect x="812" y="679" width="3" height="10" fill="#00ff00"/>
<rect x="820" y="679" width="3" height="5" fill="#00ff00"/>
<rect x="828" y="679" width="3" height="2" fill="#00ff00"/>
<rect x="836" y="677" width="3" height="2" fill="#00ff00"/>
<rect x="844" y="676" width="3" height="3" fill="#00ff00"/>
<rect x="852" y="678" width="3" height="1" fill="#00ff00"/>
<rect x="860" y="678" width="3" height="1" fill="#00ff00"/>
<rect x="876" y="679" width="3" height="7" fill="#00ff00"/>
<rect x="884" y="679" width="3" height="11" fill="#00ff00"/>
<rect x="892" y="679" width="3" height="15" fill="#00ff00"/>
<rect x="900" y="679" width="3" height="18" fill="#00ff00"/>
<rect x="908" y="679" width="3" height="21" fill="#00ff00"/>
<rect x="916" y="679" width="3" height="20" fill="#00ff00"/>
<rect x="924" y="679" width="3" height="10" fill="#00ff00"/>
<rect x="932" y="679" width="3" height="8" fill="#00ff00"/>
<rect x="940" y="679" width="3" height="3" fill="#00ff00"/>
<rect x="948" y="678" width="3" height="1" fill="#00ff00"/>
<rect x="956" y="676" width="3" height="3" fill="#00ff00"/>
<rect x="964" y="674" width="3" height="5" fill="#00ff00"/>
<rect x="972" y="675" width="3" height="4" fill="#00ff00"/>
<rect x="980" y="676" width="3" height="3" fill="#00ff00"/>
<rect x="988" y="677" width="3" height="2" fill="#00ff00"/>
<rect x="996" y="679" width="3" height="6" fill="#00ff00"/>
<rect x="1004" y="679" width="3" height="13" fill="#00ff00"/>
<rect x="1012" y="679" width="3" height="17" fill="#00ff00"/>
<rect x="1020" y="679" width="3" height="22" fill="#00ff00"/>
<rect x="1028" y="679" width="3" height="25" fill="#00ff00"/>
<rect x="1036" y="679" width="3" height="33" fill="#00ff00"/>
<rect x="1044" y="679" width="3" height="39" fill="#00ff00"/>
<rect x="1052" y="679" width="3" height="39" fill="#00ff00"/>
<rect x="1060" y="679" width="3" height="39" fill="#00ff00"/>
<rect x="1068" y="679" width="3" height="41" fill="#00ff00"/>
<rect x="1076" y="679" width="3" height="41" fill="#00ff00"/>
<rect x="1084" y="679" width="3" height="40" fill="#00ff00"/>
<rect x="1092" y="679" width="3" height="40" fill="#00ff00"/>
<rect x="1100" y="679" width="3" height="41" fill="#00ff00"/>
<rect x="1108" y="679" width="3" height="44" fill="#00ff00"/>
<rect x="1116" y="679" width="3" height="40" fill="#00ff00"/>
<rect x="1124" y="679" width="3" height="40" fill="#00ff00"/>
<rect x="1132" y="679" width="3" height="40" fill="#00ff00"/>
<rect x="1140" y="679" width="3" height="40" fill="#00ff00"/>
<rect x="1148" y="679" width="3" height="39" fill="#00ff00"/>
<rect x="1156" y="679" width="3" height="35" fill="#00ff00"/>
<rect x="1164" y="679" width="3" height="31" fill="#00ff00"/>
<rect x="1172" y="679" width="3" height="27" fill="#00ff00"/>
<rect x="1180" y="679" width="3" height="22" fill="#00ff00"/>
<rect x="1188" y="679" width="3" height="15" fill="#00ff00"/>
<rect x="1196" y="679" width="3" height="10" fill="#00ff00"/>
<rect x="1204" y="679" width="3" height="6" fill="#00ff00"/>
<rect x="1212" y="679" width="3" height="6" fill="#00ff00"/>
<rect x="1220" y="679" width="3" height="5" fill="#00ff00"/>
<rect x="1228" y="679" width="3" height="5" fill="#00ff00"/>
<rect x="1236" y="679" width="3" height="4" fill="#00ff00"/>
<rect x="1244" y="679" width="3" height="3" fill="#00ff00"/>
<rect x="1252" y="679" width="3" height="4" fill="#00ff00"/>
<rect x="1260" y="679" width="3" height="3" fill="#00ff00"/>
<rect x="1268" y="677" width="3" height="2" fill="#00ff00"/>
<rect x="1276" y="673" width="3" height="6" fill="#00ff00"/>
<rect x="1284" y="670" width="3" height="9" fill="#00ff00"/>
</g>
<polyline points="5.5,664.5 13.5,660.8 21.5,656.6 29.5,650.3 37.5,645.2 45.5,640.3 53.5,636.0 61.5,632.0 69.5,628.3 77.5,626.3 85.5,623.6 93.5,621.4 101.5,619.5 109.5,618.8 117.5,618.8 125.5,619.5 133.5,620.6 141.5,622.5 149.5,624.7 157.5,626.9 165.5,629.6 173.5,632.7 181.5,635.5 189.5,639.3 197.5,642.5 205.5,646.7 213.5,651.3 221.5,657.7 229.5,664.1 237.5,669.0 245.5,673.7 253.5,680.6 261.5,686.5 269.5,691.1 277.5,694.8 285.5,696.6 293.5,697.2 301.5,697.3 309.5,697.3 317.5,696.6 325.5,695.7 333.5,694.4 341.5,693.3 349.5,691.4 357.5,689.6 365.5,688.3 373.5,687.0 381.5,685.6 389.5,683.4 397.5,679.2 405.5,675.5 413.5,670.0 421.5,665.9 429.5,661.4 437.5,657.1 445.5,650.7 453.5,646.5 461.5,643.7 469.5,641.0 477.5,638.8 485.5,636.6 493.5,633.8 501.5,629.6 509.5,626.5 517.5,623.6 525.5,619.5 533.5,616.4 541.5,613.7 549.5,610.3 557.5,607.8 565.5,606.1 573.5,604.5 581.5,603.6 589.5,603.6 597.5,603.7 605.5,604.5 613.5,605.4 621.5,606.3 629.5,608.5 637.5,610.9 645.5,615.3 653.5,620.1 661.5,627.4 669.5,633.3 677.5,639.7 685.5,645.6 693.5,652.2 701.5,659.3 709.5,664.1 717.5,669.1 725.5,671.8 733.5,674.0 741.5,676.0 749.5,677.3 757.5,677.3 765.5,676.8 773.5,676.4 781.5,675.5 789.5,674.6 797.5,674.6 805.5,675.5 813.5,676.4 821.5,677.3 829.5,678.2 837.5,679.2 845.5,679.5 853.5,680.3 861.5,680.6 869.5,681.2 877.5,681.5 885.5,681.7 893.5,682.8 901.5,684.7 909.5,686.7 917.5,688.7 925.5,690.5 933.5,691.6 941.5,691.6 949.5,690.7 957.5,689.2 965.5,687.4 973.5,684.7 981.5,682.3 989.5,679.7 997.5,679.3 1005.5,679.7 1013.5,681.4 1021.5,683.4 1029.5,685.6 1037.5,689.6 1045.5,694.8 1053.5,699.3 1061.5,704.3 1069.5,708.5 1077.5,711.3 1085.5,713.5 1093.5,715.9 1101.5,717.7 1109.5,718.4 1117.5,718.4 1125.5,718.4 1133.5,718.4 1141.5,718.4 1149.5,718.4 1157.5,718.2 1165.5,717.2 1173.5,715.3 1181.5,713.5 1189.5,710.9 1197.5,707.6 1205.5,703.4 1213.5,699.3 1221.5,695.3 1229.5,692.4 1237.5,689.2 1245.5,686.5 1253.5,684.5 1261.5,683.2 1269.5,682.3 1277.5,681.4 1285.5,679.7" fill="none" stroke="#ff0000" stroke-width="3" stroke-linejoin="round" stroke-linecap="butt" shape-rendering="crispEdges"/>
<g shape-rendering="crispEdges">
<rect x="5" y="365" width="1623" height="3" fill="#000"/>
<rect x="5" y="442" width="1623" height="3" fill="#000"/>
<path d="M4.5 4.5H1628.5V588.5H4.5Z" fill="none" stroke="#000"/>
<path d="M4.5 590.5H1628.5V729.5H4.5Z" fill="none" stroke="#000"/>
<rect x="1629" y="24" width="2" height="1" fill="#000"/>
<rect x="1629" y="57" width="2" height="1" fill="#000"/>
<rect x="1629" y="90" width="2" height="1" fill="#000"/>
<rect x="1629" y="123" width="2" height="1" fill="#000"/>
<rect x="1629" y="156" width="2" height="1" fill="#000"/>
<rect x="1629" y="189" width="2" height="1" fill="#000"/>
<rect x="1629" y="222" width="2" height="1" fill="#000"/>
<rect x="1629" y="255" width="2" height="1" fill="#000"/>
<rect x="1629" y="288" width="2" height="1" fill="#000"/>
<rect x="1629" y="321" width="2" height="1" fill="#000"/>
<rect x="1629" y="354" width="2" height="1" fill="#000"/>
<rect x="1629" y="387" width="2" height="1" fill="#000"/>
<rect x="1629" y="420" width="2" height="1" fill="#000"/>
<rect x="1629" y="453" width="2" height="1" fill="#000"/>
<rect x="1629" y="486" width="2" height="1" fill="#000"/>
<rect x="1629" y="519" width="2" height="1" fill="#000"/>
<rect x="1629" y="552" width="2" height="1" fill="#000"/>
<rect x="1629" y="585" width="2" height="1" fill="#000"/>
<rect x="1629" y="679" width="1" height="1" fill="#000"/>
<rect x="1629" y="592" width="1" height="1" fill="#000"/>
<rect x="1629" y="729" width="1" height="1" fill="#000"/>
<rect x="5" y="730" width="1" height="3" fill="#000"/>
<rect x="69" y="730" width="1" height="3" fill="#000"/>
<rect x="133" y="730" width="1" height="3" fill="#000"/>
<rect x="197" y="730" width="1" height="3" fill="#000"/>
<rect x="261" y="730" width="1" height="3" fill="#000"/>
<rect x="325" y="730" width="1" height="3" fill="#000"/>
<rect x="389" y="730" width="1" height="3" fill="#000"/>
<rect x="453" y="730" width="1" height="3" fill="#000"/>
<rect x="517" y="730" width="1" height="3" fill="#000"/>
<rect x="581" y="730" width="1" height="3" fill="#000"/>
<rect x="645" y="730" width="1" height="3" fill="#000"/>
<rect x="709" y="730" width="1" height="3" fill="#000"/>
<rect x="773" y="730" width="1" height="3" fill="#000"/>
<rect x="837" y="730" width="1" height="3" fill="#000"/>
<rect x="901" y="730" width="1" height="3" fill="#000"/>
<rect x="965" y="730" width="1" height="3" fill="#000"/>
<rect x="1029" y="730" width="1" height="3" fill="#000"/>
<rect x="1093" y="730" width="1" height="3" fill="#000"/>
<rect x="1157" y="730" width="1" height="3" fill="#000"/>
<rect x="1221" y="730" width="1" height="3" fill="#000"/>
<rect x="1285" y="730" width="1" height="3" fill="#000"/>
<path d="M8 11h7l-3.5 4z" fill="#000" shape-rendering="auto"/>
<rect x="1630" y="287" width="36" height="11" fill="#000"/>
<rect x="1630" y="360" width="36" height="11" fill="#000"/>
<rect x="1630" y="437" width="36" height="11" fill="#000"/>
</g>
<path d="M1283.8 365.5L1378.4 186.1" stroke="#ff0000" stroke-width="6" stroke-linecap="round" fill="none"/>
<path d="M1395.1 154.7L1367.9 180.4L1388.9 191.8Z" fill="#ff0000"/>
<text x="1633.7" y="28" textLength="28.3" lengthAdjust="spacingAndGlyphs">4288.0</text>
<text x="1633.7" y="61" textLength="28.3" lengthAdjust="spacingAndGlyphs">4260.5</text>
<text x="1633.7" y="94" textLength="28.3" lengthAdjust="spacingAndGlyphs">4232.5</text>
<text x="1633.7" y="127" textLength="28.3" lengthAdjust="spacingAndGlyphs">4204.5</text>
<text x="1633.7" y="160" textLength="28.3" lengthAdjust="spacingAndGlyphs">4177.0</text>
<text x="1633.7" y="193" textLength="28.3" lengthAdjust="spacingAndGlyphs">4149.0</text>
<text x="1633.7" y="226" textLength="28.3" lengthAdjust="spacingAndGlyphs">4121.0</text>
<text x="1633.7" y="259" textLength="28.3" lengthAdjust="spacingAndGlyphs">4093.5</text>
<text x="1633.7" y="292" textLength="28.3" lengthAdjust="spacingAndGlyphs">4065.5</text>
<rect x="1630" y="287" width="36" height="11" fill="#000" shape-rendering="crispEdges"/>
<text x="1633.7" y="325" textLength="28.3" lengthAdjust="spacingAndGlyphs">4037.5</text>
<text x="1633.7" y="358" textLength="28.3" lengthAdjust="spacingAndGlyphs">4010.0</text>
<text x="1633.7" y="391" textLength="28.3" lengthAdjust="spacingAndGlyphs">3982.0</text>
<text x="1633.7" y="424" textLength="28.3" lengthAdjust="spacingAndGlyphs">3954.0</text>
<text x="1633.7" y="457" textLength="28.3" lengthAdjust="spacingAndGlyphs">3926.5</text>
<text x="1633.7" y="490" textLength="28.3" lengthAdjust="spacingAndGlyphs">3898.5</text>
<text x="1633.7" y="523" textLength="28.3" lengthAdjust="spacingAndGlyphs">3870.5</text>
<text x="1633.7" y="556" textLength="28.3" lengthAdjust="spacingAndGlyphs">3843.0</text>
<text x="1633.7" y="589" textLength="28.3" lengthAdjust="spacingAndGlyphs">3815.0</text>
<text x="1633.7" y="296" textLength="28.3" lengthAdjust="spacingAndGlyphs" class="w">4062.3</text>
<text x="1633.7" y="369" textLength="28.3" lengthAdjust="spacingAndGlyphs" class="w">4000.0</text>
<text x="1633.7" y="446" textLength="28.3" lengthAdjust="spacingAndGlyphs" class="w">3935.0</text>
<text x="1631.7" y="601" textLength="23.3" lengthAdjust="spacingAndGlyphs">69.44</text>
<text x="1631.8" y="683" textLength="18.5" lengthAdjust="spacingAndGlyphs">0.00</text>
<text x="1631.7" y="726" textLength="26.5" lengthAdjust="spacingAndGlyphs">-39.33</text>
<text x="20" y="16" textLength="64.3" lengthAdjust="spacingAndGlyphs">CHINA300-,H4</text>
<text x="90.8" y="16" textLength="28.3" lengthAdjust="spacingAndGlyphs">4053.0</text>
<text x="121.8" y="16" textLength="28.3" lengthAdjust="spacingAndGlyphs">4063.7</text>
<text x="152.8" y="16" textLength="28.3" lengthAdjust="spacingAndGlyphs">4051.1</text>
<text x="183.8" y="16" textLength="28.3" lengthAdjust="spacingAndGlyphs">4062.3</text>
<text x="9.3" y="602" textLength="111" lengthAdjust="spacingAndGlyphs">MACD(12,26,9) 7.32 -0.20</text>
<text x="4.2" y="742" textLength="46.8" lengthAdjust="spacingAndGlyphs">1 Dec 2022</text>
<text x="68.2" y="742" textLength="49.8" lengthAdjust="spacingAndGlyphs">7 Dec 05:00</text>
<text x="132.2" y="742" textLength="54.8" lengthAdjust="spacingAndGlyphs">13 Dec 05:00</text>
<text x="196.2" y="742" textLength="54.8" lengthAdjust="spacingAndGlyphs">19 Dec 05:00</text>
<text x="260.2" y="742" textLength="54.8" lengthAdjust="spacingAndGlyphs">23 Dec 05:00</text>
<text x="324.2" y="742" textLength="54.8" lengthAdjust="spacingAndGlyphs">29 Dec 05:00</text>
<text x="388.2" y="742" textLength="47.8" lengthAdjust="spacingAndGlyphs">5 Jan 05:00</text>
<text x="452.2" y="742" textLength="52.8" lengthAdjust="spacingAndGlyphs">11 Jan 05:00</text>
<text x="516.2" y="742" textLength="52.8" lengthAdjust="spacingAndGlyphs">17 Jan 05:00</text>
<text x="580.2" y="742" textLength="52.8" lengthAdjust="spacingAndGlyphs">30 Jan 05:00</text>
<text x="644.2" y="742" textLength="49.8" lengthAdjust="spacingAndGlyphs">3 Feb 05:00</text>
<text x="708.2" y="742" textLength="49.8" lengthAdjust="spacingAndGlyphs">9 Feb 05:00</text>
<text x="772.2" y="742" textLength="54.8" lengthAdjust="spacingAndGlyphs">15 Feb 05:00</text>
<text x="836.2" y="742" textLength="54.8" lengthAdjust="spacingAndGlyphs">21 Feb 05:00</text>
<text x="900.2" y="742" textLength="54.8" lengthAdjust="spacingAndGlyphs">27 Feb 05:00</text>
<text x="964.2" y="742" textLength="49.8" lengthAdjust="spacingAndGlyphs">3 Mar 05:00</text>
<text x="1028.2" y="742" textLength="49.8" lengthAdjust="spacingAndGlyphs">9 Mar 05:00</text>
<text x="1092.2" y="742" textLength="54.8" lengthAdjust="spacingAndGlyphs">15 Mar 05:00</text>
<text x="1156.2" y="742" textLength="54.8" lengthAdjust="spacingAndGlyphs">21 Mar 05:00</text>
<text x="1220.2" y="742" textLength="54.8" lengthAdjust="spacingAndGlyphs">27 Mar 05:00</text>
<text x="1284.2" y="742" textLength="54.8" lengthAdjust="spacingAndGlyphs">31 Mar 05:00</text>
</svg></body></html>
